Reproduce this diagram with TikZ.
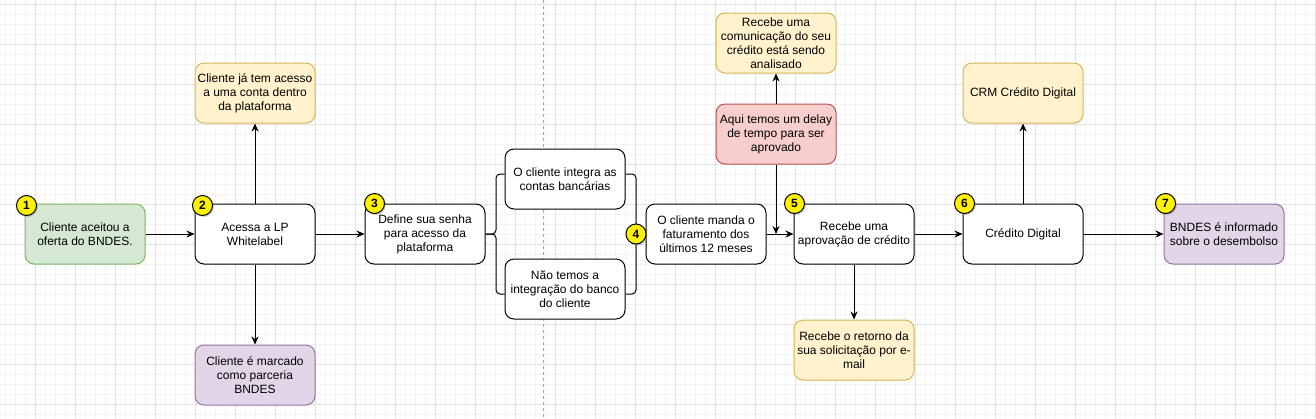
\documentclass[tikz,border=0pt]{standalone}
\usepackage{fontspec}
\setmainfont{Liberation Sans}
\usetikzlibrary{
    arrows.meta,
    calc,
    positioning,
    shadows
}
\definecolor{greenfill}{HTML}{D5E8D4}
\definecolor{greendraw}{HTML}{82B366}
\definecolor{yellowfill}{HTML}{FFF2CC}
\definecolor{yellowdraw}{HTML}{D6B656}
\definecolor{redfill}{HTML}{F8CECC}
\definecolor{reddraw}{HTML}{B85450}
\definecolor{purplefill}{HTML}{E1D5E7}
\definecolor{purpledraw}{HTML}{9673A6}
\definecolor{gridminor}{HTML}{F3F3F3}
\definecolor{gridmajor}{HTML}{E2E2E2}

\begin{document}
\begin{tikzpicture}[
    x=1pt,
    y=-1pt,
    line width=1pt,
    >={Stealth[length=8pt,width=7pt]},
    every node/.style = {
        font=\fontsize{12pt}{14pt}\selectfont
    },
    stepbox/.style = {
        draw,
        rectangle,
        rounded corners=9pt,
        fill=white,
        align=center,
        inner sep=0pt,
        minimum height=60pt,
        minimum width=120pt
    },
    greenbox/.style = {stepbox, fill=greenfill, draw=greendraw},
    yellowbox/.style = {stepbox, fill=yellowfill, draw=yellowdraw},
    redbox/.style = {stepbox, fill=redfill, draw=reddraw},
    purplebox/.style = {stepbox, fill=purplefill, draw=purpledraw},
    badge/.style = {
        draw,
        circle,
        fill=yellow,
        inner sep=0pt,
        minimum size=20pt,
        font=\fontsize{12pt}{14pt}\selectfont\bfseries,
        drop shadow={shadow xshift=1.5pt, shadow yshift=-1.5pt, opacity=0.35}
    },
    brace/.style = {rounded corners=4pt}
]
    \useasboundingbox [fill=white] (0,0) rectangle (1316,418);

    % Grid
    \foreach \gx in {5,15,...,1315} \draw [gridminor] (\gx,0) -- (\gx,418);
    \foreach \gy in {4,14,...,414} \draw [gridminor] (0,\gy) -- (1316,\gy);
    \foreach \gx in {35,75,...,1315} \draw [gridmajor] (\gx,0) -- (\gx,418);
    \foreach \gy in {4,44,...,404} \draw [gridmajor] (0,\gy) -- (1316,\gy);
    \draw [gray!70, dashed, line width=0.8pt] (543,0) -- (543,418);

    % Main row
    \node [greenbox] (cliente_aceita) at (85,234)
        {Cliente aceitou a\\oferta do BNDES.};
    \node [stepbox] (acessa_lp) at (255,234) {Acessa a LP\\Whitelabel};
    \node [stepbox] (define_senha) at (425,234)
        {Define sua senha\\para acesso da\\plataforma};
    \node [stepbox] (integra_contas) at (565,179)
        {O cliente integra as\\contas bancárias};
    \node [stepbox] (sem_integracao) at (565,289)
        {Não temos a\\integração do banco\\do cliente};
    \node [stepbox] (manda_faturamento) at (706,234)
        {O cliente manda o\\faturamento dos\\últimos 12 meses};
    \node [stepbox] (recebe_aprovacao) at (854,234)
        {Recebe uma\\aprovação de crédito};
    \node [stepbox] (credito_digital) at (1023,234) {Crédito Digital};
    \node [purplebox] (bndes_informado) at (1224,234)
        {BNDES é informado\\sobre o desembolso};

    % Side boxes
    \node [yellowbox, above=80pt of acessa_lp] (conta_existente)
        {Cliente já tem acesso\\a uma conta dentro\\da plataforma};
    \node [purplebox, below=80pt of acessa_lp] (parceria_bndes)
        {Cliente é marcado\\como parceria\\BNDES};
    \node [redbox] (delay_tempo) at (776,134)
        {Aqui temos um delay\\de tempo para ser\\aprovado};
    \node [yellowbox, above=30pt of delay_tempo] (comunicacao_credito)
        {Recebe uma\\comunicação do seu\\crédito está sendo\\analisado};
    \node [yellowbox, below=55pt of recebe_aprovacao] (retorno_email)
        {Recebe o retorno da\\sua solicitação por e-\\mail};
    \node [yellowbox, above=80pt of credito_digital] (crm_credito)
        {CRM Crédito Digital};

    \coordinate (brace_left) at (496,234);
    \coordinate (brace_right) at (636,234);
    \coordinate (delay_end) at (delay_tempo.south |- recebe_aprovacao.west);

    \draw [->] (cliente_aceita) -- (acessa_lp);
    \draw [->] (acessa_lp) -- (define_senha);
    \draw [->] (acessa_lp) -- (conta_existente);
    \draw [->] (acessa_lp) -- (parceria_bndes);

    \draw [brace] ([yshift=5pt]integra_contas.west) -| (brace_left)
        -- (define_senha.east);
    \draw [brace] ([yshift=-5pt]sem_integracao.west) -| (brace_left)
        -- (define_senha.east);
    \draw [brace] ([yshift=5pt]integra_contas.east) -| (brace_right)
        -- (manda_faturamento.west);
    \draw [brace] ([yshift=-5pt]sem_integracao.east) -| (brace_right)
        -- (manda_faturamento.west);

    \draw [->] (manda_faturamento) -- (recebe_aprovacao);
    \draw [->] (delay_tempo) -- (comunicacao_credito);
    \draw [->] (delay_tempo) -- (delay_end);
    \draw [->] (recebe_aprovacao.south -| retorno_email.north)
        -- (retorno_email);
    \draw [->] (recebe_aprovacao) -- (credito_digital);
    \draw [->] (credito_digital) -- (crm_credito);
    \draw [->] (credito_digital) -- (bndes_informado);

    % Badges
    \node [badge] (badge_1) at ([xshift=2pt,yshift=-2pt]cliente_aceita.north west) {1};
    \node [badge] (badge_2) at ([xshift=8pt,yshift=-2pt]acessa_lp.north west) {2};
    \node [badge] (badge_3) at ([xshift=10pt]define_senha.north west) {3};
    \node [badge] (badge_4) at (brace_right) {4};
    \node [badge] (badge_5) at ([xshift=1pt]recebe_aprovacao.north west) {5};
    \node [badge] (badge_6) at ([xshift=2pt]credito_digital.north west) {6};
    \node [badge] (badge_7) at ([xshift=2pt]bndes_informado.north west) {7};
\end{tikzpicture}
\end{document}
